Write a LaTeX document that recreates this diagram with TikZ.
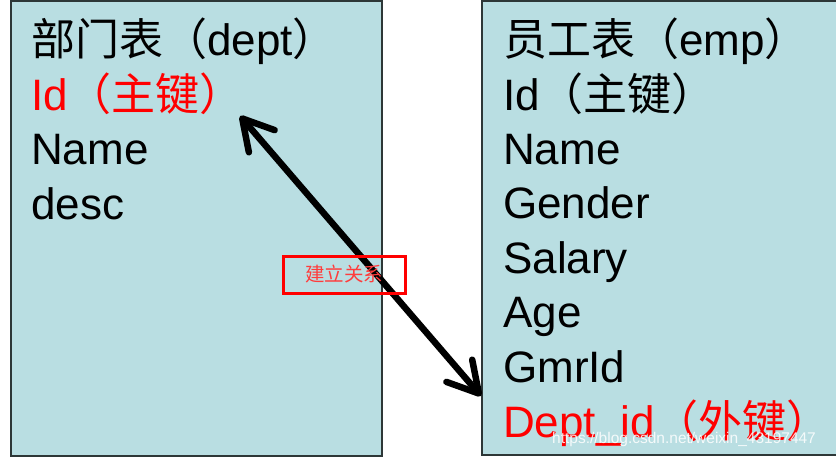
\documentclass[tikz,border=0pt]{standalone}
\usepackage{fontspec}
\setmainfont{Liberation Sans}
\newfontfamily\cjk{Noto Sans CJK SC}
\usepackage{tikz}
\usetikzlibrary{arrows.meta, positioning, calc}

\definecolor{tblfill}{RGB}{185,222,226}
\definecolor{tbledge}{RGB}{45,55,55}
\definecolor{linkred}{RGB}{255,60,60}

\begin{document}
\begin{tikzpicture}[
    x=1pt, y=-1pt,
    table/.style={rectangle, draw=tbledge, fill=tblfill, line width=2pt, inner sep=0pt},
    field/.style={anchor=base west, inner sep=0pt, font=\fontsize{44}{55}\selectfont},
    key/.style={field, text=red},
    rel/.style={{Straight Barb[length=30pt, width=34pt, round]}-{Straight Barb[length=30pt, width=34pt, round]}, line width=6.5pt},
    relbox/.style={rectangle, draw=red, line width=3pt, minimum width=122pt, minimum height=37pt, inner sep=0pt, text=linkred, font=\cjk\fontsize{19.5}{20}\selectfont},
    wmark/.style={anchor=base west, inner sep=0pt, text=white, opacity=0.85, font=\fontsize{15.5}{18}\selectfont}
]
\useasboundingbox (0,0) rectangle (836,458);
\clip (0,0) rectangle (836,458);

% tables
\node[table, minimum width=371pt, minimum height=455pt] (dept) at (196.5,228.5) {};
\node[table, minimum width=380pt, minimum height=454pt] (emp) at (672,228) {};

% dept fields
\node[field] (dtitle) at (31,55) {{\cjk 部门表（}dept{\cjk ）}};
\node[key]   (dpk)    at (31,110) {Id{\cjk （主键）}};
\node[field] (dname)  at (31,164) {Name};
\node[field] (ddesc)  at (31,219) {desc};

% emp fields
\node[field] (etitle)  at (503,55) {{\cjk 员工表（}emp{\cjk ）}};
\node[field] (eid)     at (503,110) {Id{\cjk （主键）}};
\node[field] (ename)   at (503,164) {Name};
\node[field] (egender) at (503,218) {Gender};
\node[field] (esalary) at (503,273) {Salary};
\node[field] (eage)    at (503,327) {Age};
\node[field] (egmr)    at (503,382) {GmrId};
\node[key]   (efk)     at (503,437) {Dept\_id{\cjk （外键）}};

% relation
\coordinate (pkend) at ($(dpk.base east |- 0,116)+(-4,0)$);
\coordinate (fkend) at (emp.west |- 0,396);
\draw[rel] (pkend) -- (fkend);
\node[relbox] (link) at (344,274.5) {建立关系};

\node[wmark] (wm) at (552,443) {https://blog.csdn.net/weixin\_43197447};

\end{tikzpicture}
\end{document}
